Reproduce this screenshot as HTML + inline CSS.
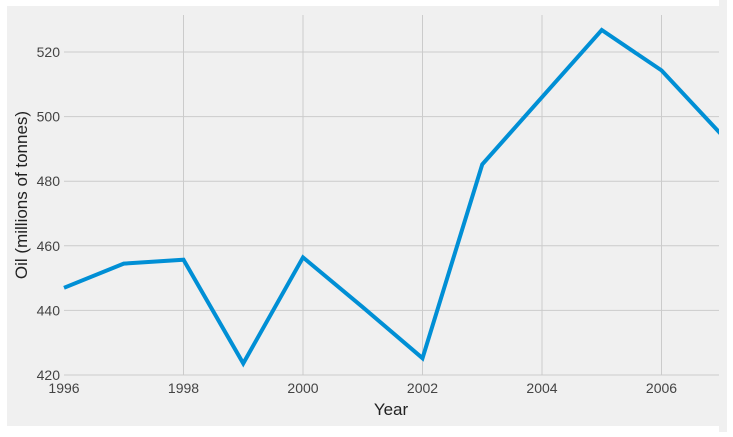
<!DOCTYPE html>
<html><head><style>body{margin:0;background:#fff}</style></head><body>
<svg width="733" height="432" xmlns="http://www.w3.org/2000/svg" font-family="Liberation Sans, sans-serif">
<rect x="7" y="6" width="720" height="420" fill="#f0f0f0"/>
<g stroke="#cbcbcb" stroke-width="1">
<line x1="64" x2="720" y1="52" y2="52"/><line x1="64" x2="720" y1="116.6" y2="116.6"/>
<line x1="64" x2="720" y1="181.2" y2="181.2"/><line x1="64" x2="720" y1="245.8" y2="245.8"/>
<line x1="64" x2="720" y1="310.4" y2="310.4"/><line x1="64" x2="720" y1="375" y2="375"/>
<line y1="15" y2="375" x1="183.5" x2="183.5"/><line y1="15" y2="375" x1="303" x2="303"/>
<line y1="15" y2="375" x1="422.5" x2="422.5"/><line y1="15" y2="375" x1="542" x2="542"/>
<line y1="15" y2="375" x1="661.5" x2="661.5"/>
</g>
<polyline fill="none" stroke="#008fd5" stroke-width="4" stroke-linejoin="miter" points="64,287.8 123.75,263.6 183.5,259.7 243.25,363.4 303,257.4 362.75,307.2 422.5,358.2 482.25,164.4 542,97.2 601.75,30 661.5,70.4 721.25,134.4"/>
<rect x="719" y="0" width="14" height="432" fill="#f0f0f0"/>
<rect x="727" y="0" width="6" height="432" fill="#fff"/>
<g fill="#444" font-size="14" text-anchor="end">
<text x="60" y="57">520</text><text x="60" y="121.6">500</text><text x="60" y="186.2">480</text>
<text x="60" y="250.8">460</text><text x="60" y="315.4">440</text><text x="60" y="380">420</text>
</g>
<g fill="#444" font-size="14" text-anchor="middle">
<text x="64" y="393">1996</text><text x="183.5" y="393">1998</text><text x="303" y="393">2000</text>
<text x="422.5" y="393">2002</text><text x="542" y="393">2004</text><text x="661.5" y="393">2006</text>
</g>
<text x="391" y="415" font-size="17" fill="#222" text-anchor="middle">Year</text>
<text transform="translate(27,195) rotate(-90)" font-size="17" fill="#222" text-anchor="middle">Oil (millions of tonnes)</text>
</svg>
</body></html>
